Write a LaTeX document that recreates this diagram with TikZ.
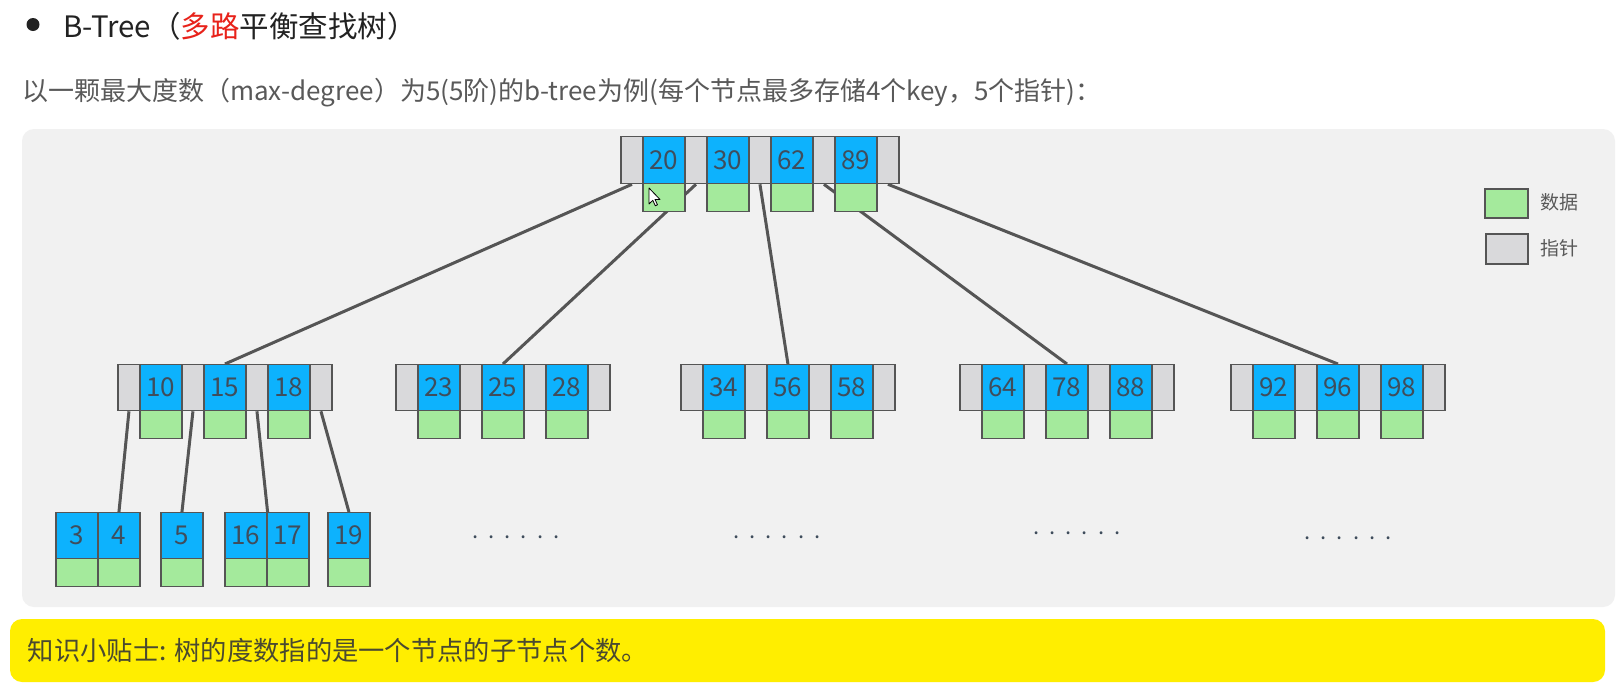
\documentclass[tikz,border=0pt]{standalone}
\usepackage{fontspec}
\setmainfont{Noto Sans CJK SC}
\definecolor{panelgrey}{HTML}{F1F1F1}
\definecolor{keyblue}{HTML}{0DB2FD}
\definecolor{datgreen}{HTML}{A4EA9C}
\definecolor{ptrgrey}{HTML}{D9D9DB}
\definecolor{bordercol}{HTML}{555555}
\definecolor{keytext}{HTML}{3F4D5C}
\definecolor{conncol}{HTML}{555555}
\definecolor{tipyellow}{HTML}{FFEE00}
\definecolor{tiptext}{HTML}{4A4A30}
\definecolor{titletext}{HTML}{222222}
\definecolor{subtext}{HTML}{595959}
\definecolor{titlered}{HTML}{E8221A}
\newcommand\setfs[1]{\fontsize{#1}{#1}\selectfont}
\pgfdeclarelayer{back}
\pgfdeclarelayer{bg}
\pgfsetlayers{back,bg,main}
\tikzset{
  cell/.style={draw=bordercol, line width=1.3pt, inner sep=0pt, anchor=north west},
  ptr/.style={cell, fill=ptrgrey, minimum width=22pt},
  key/.style={cell, fill=keyblue, minimum width=42pt, minimum height=46pt, text=keytext, font=\setfs{26}},
  dat/.style={cell, fill=datgreen, minimum width=42pt, minimum height=27.5pt},
  conn/.style={draw=conncol, line width=3pt},
  dots/.style={anchor=base, text=keytext, font=\setfs{22}}
}
\newcommand\BTnode[5]{%
  \node[ptr, minimum height=#4pt] (#1p0) at (#2,#3) {};
  \foreach \k [count=\i] in {#5} {
    \pgfmathsetmacro\xx{#2+22+(\i-1)*64}
    \node[key, minimum height=#4pt] (#1k\i) at (\xx,#3) {\k};
    \node[ptr, minimum height=#4pt] (#1p\i) at (\xx+42,#3) {};
    \node[dat] (#1d\i) at (\xx,#3+#4) {};
  }
}
\newcommand\BTleaf[4]{%
  \foreach \k [count=\i] in {#4} {
    \pgfmathsetmacro\xx{#2+(\i-1)*42}
    \node[key] (#1k\i) at (\xx,#3) {\k};
    \node[dat] (#1d\i) at (\xx,#3+46) {};
  }
}
\newcommand\sixdots{.\kern10pt.\kern10pt.\kern10pt.\kern10pt.\kern10pt.}
\begin{document}
\begin{tikzpicture}[x=1pt,y=-1pt]
\useasboundingbox (0,0) rectangle (1623,694);
\begin{pgfonlayer}{back}
\fill[white] (0,0) rectangle (1623,694);
\fill[panelgrey, rounded corners=12pt] (22,129) rectangle (1615,607);
\fill[tipyellow, rounded corners=12pt] (10,619) rectangle (1605,682);
\end{pgfonlayer}

% title
\fill[titletext] (33,24.5) circle (6.5pt);
\node[anchor=west, inner sep=0pt, font=\setfs{29.5}, text=titletext] (title) at (63,26)
  {B-Tree（\textcolor{titlered}{多路}平衡查找树）};
\node[anchor=west, inner sep=0pt, font=\setfs{26}, text=subtext] (sub) at (22,93)
  {以一颗最大度数（max-degree）为5(5阶)的b-tree为例(每个节点最多存储4个key，5个指针)：};

% root
\BTnode{r}{620.3}{136}{47}{20,30,62,89}
% level 2
\BTnode{A}{117.3}{364}{46}{10,15,18}
\BTnode{B}{395.3}{364}{46}{23,25,28}
\BTnode{C}{680.3}{364}{46}{34,56,58}
\BTnode{D}{959.3}{364}{46}{64,78,88}
\BTnode{E}{1230.3}{364}{46}{92,96,98}
% leaves
\BTleaf{La}{55.3}{512}{3,4}
\BTleaf{Lb}{160.3}{512}{5}
\BTleaf{Lc}{224.3}{512}{16,17}
\BTleaf{Ld}{327.3}{512}{19}

\begin{pgfonlayer}{bg}
\draw[conn] (rp0.south) -- (Ak2.north);
\draw[conn] (rp1.south) -- (Bk2.north);
\draw[conn] (rp2.south) -- (Ck2.north);
\draw[conn] (rp3.south) -- (Dk2.north);
\draw[conn] (rp4.south) -- (Ek2.north);
\draw[conn] (Ap0.south) -- (Lak2.north);
\draw[conn] (Ap1.south) -- (Lbk1.north);
\draw[conn] (Ap2.south) -- (Lck1.north east);
\draw[conn] (Ap3.south) -- (Ldk1.north);
\end{pgfonlayer}

% dots
\node[dots] (dots1) at (516,538) {\sixdots};
\node[dots] (dots2) at (777,538) {\sixdots};
\node[dots] (dots3) at (1077,534) {\sixdots};
\node[dots] (dots4) at (1348,539) {\sixdots};

% legend
\node[cell, fill=datgreen, minimum width=43pt, minimum height=29pt] (legdat) at (1484.3,188.3) {};
\node[cell, fill=ptrgrey, minimum width=42pt, minimum height=30pt] (legptr) at (1485.3,233.3) {};
\node[anchor=west, inner sep=0pt, font=\setfs{19}, text=subtext] (legdattxt) at (1540,202.7) {数据};
\node[anchor=west, inner sep=0pt, font=\setfs{19}, text=subtext] (legptrtxt) at (1540,248) {指针};

% tip
\node[anchor=west, inner sep=0pt, font=\setfs{26.3}, text=tiptext] (tip) at (27.7,650)
  {知识小贴士: 树的度数指的是一个节点的子节点个数。};

% mouse cursor
\filldraw[fill=white, draw=black, line width=0.8pt, line join=round]
  (649,188) -- ++(0,16) -- ++(3.8,-3.7) -- ++(2.5,5.5) -- ++(2.2,-1) -- ++(-2.5,-5.3) -- ++(5,0) -- cycle;
\end{tikzpicture}
\end{document}
